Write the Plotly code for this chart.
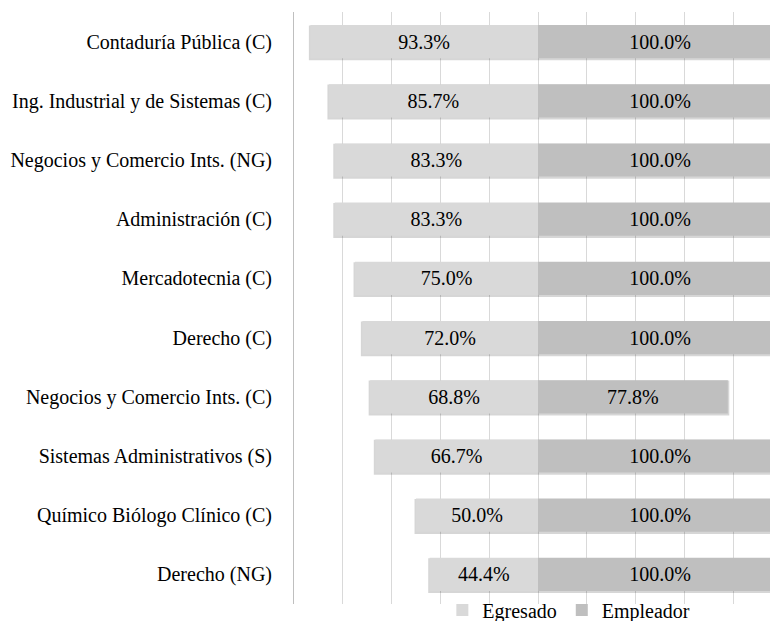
import plotly.graph_objects as go

carreras = [
    "Contaduría Pública (C)",
    "Ing. Industrial y de Sistemas (C)",
    "Negocios y Comercio Ints. (NG)",
    "Administración (C)",
    "Mercadotecnia (C)",
    "Derecho (C)",
    "Negocios y Comercio Ints. (C)",
    "Sistemas Administrativos (S)",
    "Químico Biólogo Clínico (C)",
    "Derecho (NG)",
]
egresado = [93.3, 85.7, 83.3, 83.3, 75.0, 72.0, 68.8, 66.7, 50.0, 44.4]
empleador = [100.0, 100.0, 100.0, 100.0, 100.0, 100.0, 77.8, 100.0, 100.0, 100.0]

fuente = "Times New Roman, Liberation Serif, serif"
ancho = 0.56

fig = go.Figure()

# sombra ligera debajo de cada barra (como en Excel)
for vals, signo in [(egresado, -1), (empleador, 1)]:
    fig.add_trace(go.Bar(
        y=carreras, x=[signo * (v + 0.6) for v in vals], orientation="h",
        width=ancho + 0.03, offset=-ancho / 2 + 0.006,
        marker=dict(color="rgba(0,0,0,0.16)", line=dict(width=0)),
        showlegend=False, hoverinfo="skip",
    ))

# egresado hacia la izquierda (valores negativos), empleador hacia la derecha
fig.add_trace(go.Bar(
    y=carreras, x=[-v for v in egresado], orientation="h", name="Egresado",
    width=ancho,
    marker=dict(color="#d9d9d9", line=dict(width=0)),
    text=[f"{v:.1f}%" for v in egresado], textposition="inside",
    insidetextanchor="middle", textangle=0,
    insidetextfont=dict(family=fuente, size=20, color="#000000"),
    hoverinfo="skip",
))
fig.add_trace(go.Bar(
    y=carreras, x=empleador, orientation="h", name="Empleador",
    width=ancho,
    marker=dict(color="#bfbfbf", line=dict(width=0)),
    text=[f"{v:.1f}%" for v in empleador], textposition="inside",
    insidetextanchor="middle", textangle=0,
    insidetextfont=dict(family=fuente, size=20, color="#000000"),
    hoverinfo="skip",
))

fig.update_layout(
    width=778, height=621,
    margin=dict(l=286, r=4, t=4, b=25, autoexpand=False),
    barmode="overlay",
    plot_bgcolor="white", paper_bgcolor="white",
    font=dict(family=fuente, size=20, color="#000000"),
    showlegend=True,
    legend=dict(
        orientation="h", x=0.304, y=-0.010, xanchor="left", yanchor="middle",
        font=dict(family=fuente, size=20, color="#000000"),
        bgcolor="rgba(0,0,0,0)",
        traceorder="normal", itemclick=False,
    ),
)
fig.update_xaxes(
    range=[-100, 100], dtick=20, tick0=0, showticklabels=False,
    showgrid=True, gridcolor="#d9d9d9", gridwidth=1, zeroline=False,
    ticks="", fixedrange=True,
)
fig.update_yaxes(
    autorange="reversed", showgrid=False, showline=True, linecolor="#bfbfbf",
    linewidth=1, ticks="", ticklabelstandoff=17, automargin=False,
    tickfont=dict(family=fuente, size=20, color="#000000"),
)

fig.write_html("out.html")
